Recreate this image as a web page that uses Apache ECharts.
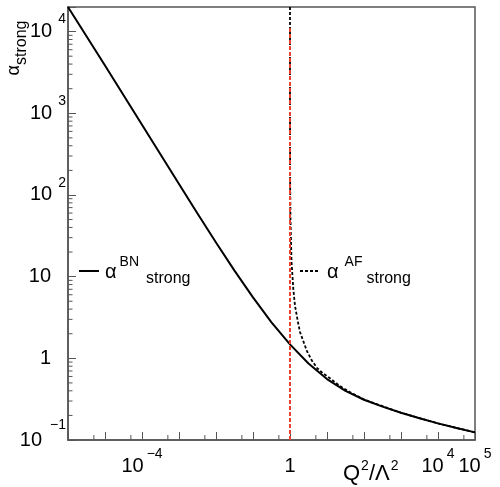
<!DOCTYPE html>
<html><head><meta charset="utf-8">
<script src="https://cdn.jsdelivr.net/npm/echarts@6/dist/echarts.min.js"></script>
<style>html,body{margin:0;padding:0;background:#fff}#c{width:500px;height:487px}</style>
</head><body><div id="c"></div>
<script>
// ---- data ----
const bnX = [1e-6, 1e-5, 1e-4, 1e-3, 3.16e-3, 1e-2, 3.16e-2, 0.1, 0.316, 1, 3.16, 10, 31.6, 100, 316, 1e3, 3160, 1e4, 3.16e4, 1e5];
const bnY = [20000, 3837, 723, 136, 59.4, 26.2, 11.86, 5.57, 2.76, 1.48, 0.863, 0.557, 0.399, 0.311, 0.256, 0.2156, 0.1845, 0.1597, 0.140, 0.124];
const afX = [1.0001, 1.001, 1.01, 1.03, 1.1, 1.23, 1.365, 1.6, 1.86, 2.88, 3.9, 5.4, 7.8, 12, 22, 40, 100, 1e3, 1e4, 1e5];
const afY = [20000, 1450, 146, 49, 15.2, 7.0, 4.4, 2.95, 2.1, 1.22, 0.94, 0.76, 0.655, 0.57, 0.46, 0.39, 0.313, 0.2156, 0.1597, 0.124];
const cutX = [1, 1];
const cutY = [0.1, 11000];
const xMinorTicks = [5e-6, 5e-5, 5e-4, 5e-3, 5e-2, 5e-1, 5, 50, 500, 5e3, 5e4];
const yMinorTicks = [];
[0.1, 1, 10, 100, 1000, 10000].forEach(d => { for (let k = 2; k <= 9; k++) { if (d * k < 20000) yMinorTicks.push(d * k); } });
const xLabelExps = [-4, 0, 4, 5];
const yLabelExps = [-1, 0, 1, 2, 3, 4];

const FONT = "'Liberation Sans', Arial, Helvetica, sans-serif";
const AX = '#555';
const XMIN = 1e-6, XMAX = 1e5, YMIN = 0.1, YMAX = 20000;

function expOf(v) { const l = Math.log10(v); const e = Math.round(l); return Math.abs(l - e) < 1e-6 ? e : null; }
function supTxt(e) { return String(e).replace('-', '\u2212'); }

const chart = echarts.init(document.getElementById('c'), null, { renderer: 'canvas' });
chart.setOption({
  backgroundColor: '#fff',
  animation: false,
  grid: { left: 68, right: 25, top: 7, bottom: 47, show: true, borderColor: AX, borderWidth: 1.5, outerBoundsMode: 'none', containLabel: false },
  xAxis: {
    type: 'log', logBase: 10, min: XMIN, max: XMAX, interval: 1, splitNumber: 11,
    axisLine: { show: true, lineStyle: { color: AX, width: 1.5 } },
    axisTick: { show: true, inside: true, length: 8, lineStyle: { color: AX, width: 1 } },
    splitLine: { show: false },
    minorTick: { show: false },
    axisLabel: {
      margin: 7, showMinLabel: true, showMaxLabel: true,
      formatter: v => { const e = expOf(v); if (e === null || xLabelExps.indexOf(e) < 0) return ''; return e === 0 ? '{b|1}' : '{b|10}{s|' + supTxt(e) + '}'; },
      rich: {
        b: { fontFamily: FONT, fontSize: 20, color: '#000', lineHeight: 39 },
        s: { fontFamily: FONT, fontSize: 14, color: '#000', padding: [0, 0, 25, 3] }
      }
    }
  },
  yAxis: {
    type: 'log', logBase: 10, min: YMIN, max: YMAX, interval: 1,
    axisLine: { show: true, lineStyle: { color: AX, width: 1.5 } },
    axisTick: { show: true, inside: true, length: 8, lineStyle: { color: AX, width: 1 } },
    splitLine: { show: false },
    minorTick: { show: false },
    axisLabel: {
      margin: 2, showMaxLabel: true,
      formatter: v => { const e = expOf(v); if (e === null || yLabelExps.indexOf(e) < 0) return ''; if (e === 0) return '{b|1}{p| }'; if (e === 1) return '{b|10}{p| }'; if (e < 0) return '{b|10}{m|' + supTxt(e) + '}'; return '{b|10}{s|' + supTxt(e) + '}'; },
      rich: {
        b: { fontFamily: FONT, fontSize: 20, color: '#000', lineHeight: 38 },
        s: { fontFamily: FONT, fontSize: 14, color: '#000', padding: [0, 0, 24, 6] },
        m: { fontFamily: FONT, fontSize: 14, color: '#000', padding: [0, 0, 30, 8] },
        p: { width: 15 }
      }
    }
  },
  series: [
    { type: 'custom', name: 'xminor', coordinateSystem: 'cartesian2d', silent: true, clip: false,
      data: xMinorTicks.map(v => [v, YMIN]),
      renderItem: (params, api) => { const p = api.coord([api.value(0), YMIN]); return { type: 'line', shape: { x1: p[0], y1: p[1], x2: p[0], y2: p[1] - 5 }, style: { stroke: AX, lineWidth: 1 } }; } },
    { type: 'custom', name: 'yminor', coordinateSystem: 'cartesian2d', silent: true, clip: false,
      data: yMinorTicks.map(v => [XMIN, v]),
      renderItem: (params, api) => { const p = api.coord([XMIN, api.value(1)]); return { type: 'line', shape: { x1: p[0], y1: p[1], x2: p[0] + 4.5, y2: p[1] }, style: { stroke: AX, lineWidth: 1 } }; } },
    { type: 'line', name: 'AF', data: afX.map((x, i) => [x, afY[i]]), showSymbol: false, symbol: 'none', smooth: false,
      lineStyle: { color: '#000', width: 1.8, type: [3, 2] }, z: 3 },
    { type: 'line', name: 'BN', data: bnX.map((x, i) => [x, bnY[i]]), showSymbol: false, symbol: 'none', smooth: false,
      lineStyle: { color: '#000', width: 2, join: 'round' }, z: 4 },
    { type: 'line', name: 'cut', data: cutX.map((x, i) => [x, cutY[i]]), showSymbol: false, symbol: 'none',
      lineStyle: { color: '#e8412c', width: 2, type: [4, 2] }, z: 5 }
  ],
  graphic: [
    { type: 'line', shape: { x1: 79, y1: 271, x2: 99, y2: 271 }, style: { stroke: '#000', lineWidth: 2 } },
    { type: 'text', x: 105, y: 272, style: { text: '{a|\u03b1}{u|BN}{d|strong}', verticalAlign: 'middle', align: 'left',
      rich: { a: { fontFamily: FONT, fontSize: 20, color: '#000', lineHeight: 33 },
              u: { fontFamily: FONT, fontSize: 14, color: '#000', padding: [0, 0, 19, 3] },
              d: { fontFamily: FONT, fontSize: 16, color: '#000', padding: [14, 0, 0, 7] } } } },
    { type: 'line', shape: { x1: 300, y1: 271, x2: 318, y2: 271 }, style: { stroke: '#000', lineWidth: 2, lineDash: [3, 2] } },
    { type: 'text', x: 327, y: 272, style: { text: '{a|\u03b1}{u|AF}{d|strong}', verticalAlign: 'middle', align: 'left',
      rich: { a: { fontFamily: FONT, fontSize: 20, color: '#000', lineHeight: 33 },
              u: { fontFamily: FONT, fontSize: 14, color: '#000', padding: [0, 0, 19, 6] },
              d: { fontFamily: FONT, fontSize: 16, color: '#000', padding: [14, 0, 0, 4] } } } },
    { type: 'text', x: 14, y: 48, rotation: Math.PI / 2, style: { text: '{a|\u03b1}{s|strong}', verticalAlign: 'middle', align: 'center',
      rich: { a: { fontFamily: FONT, fontSize: 18, color: '#000', lineHeight: 31 },
              s: { fontFamily: FONT, fontSize: 16, color: '#000', padding: [15, 0, 0, 0] } } } },
    { type: 'text', x: 343, y: 474, style: { text: '{b|Q}{s|2}{b|/\u039b}{s|2}', verticalAlign: 'middle', align: 'left',
      rich: { b: { fontFamily: FONT, fontSize: 22, color: '#000', lineHeight: 30 },
              s: { fontFamily: FONT, fontSize: 14, color: '#000', padding: [0, 0, 16, 1] } } } }
  ]
});
</script></body></html>
